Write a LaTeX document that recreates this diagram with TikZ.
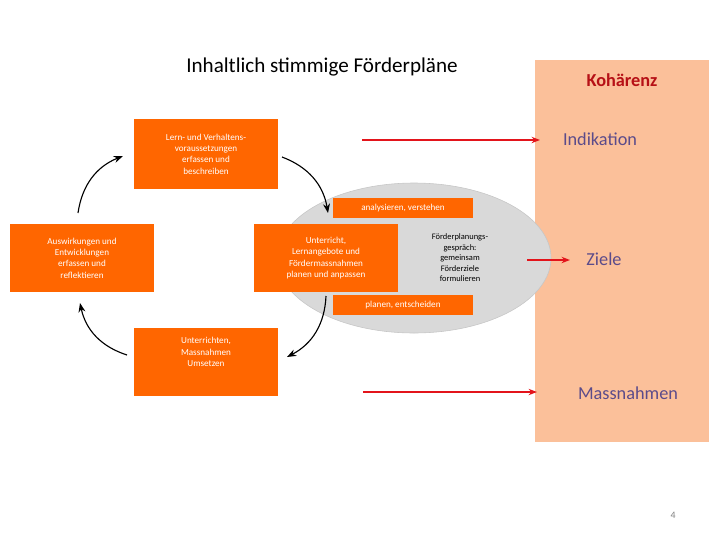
\documentclass[tikz,border=0pt]{standalone}
\usepackage{fontspec}
\setmainfont{Carlito}
\usetikzlibrary{arrows.meta}
\definecolor{boxorange}{HTML}{FF6600}
\definecolor{panel}{HTML}{FBC09A}
\definecolor{redarrow}{HTML}{E3141B}
\definecolor{lilac}{HTML}{5B4B8A}
\begin{document}
\begin{tikzpicture}[x=0.025cm, y=-0.025cm,
    box/.style={fill=boxorange, text=white, align=center, font=\fontsize{6.5}{8}\selectfont},
    cyc/.style={->, >=Stealth, thick, black},
    hint/.style={-{Stealth[length=6pt]}, line width=2pt, redarrow},
    lab/.style={lilac, font=\fontsize{13}{15}\selectfont}]
        \useasboundingbox (0, 0) rectangle (720, 540);

        \node[font=\fontsize{15}{18}\selectfont] (title) at (322, 67) {Inhaltlich stimmige Förderpläne};
        \fill[panel] (535, 60) rectangle (709, 442);
        \node[font=\bfseries\fontsize{13}{15}\selectfont, text=redarrow!80!black] (koh) at (622, 80) {Kohärenz};

        \fill[gray!30, draw=gray!45] (414, 258) ellipse (137 and 75);

        \node[box, minimum width=3.6cm, minimum height=1.75cm] (erfassen) at (206, 154) {Lern- und Verhaltens-\\voraussetzungen\\erfassen und\\beschreiben};
        \node[box, minimum width=3.6cm, minimum height=1.72cm] (auswirk) at (82, 258) {Auswirkungen und\\Entwicklungen\\erfassen und\\reflektieren};
        \node[box, minimum width=3.6cm, minimum height=1.72cm, text depth=0.5cm] (umsetzen) at (206, 362) {Unterrichten,\\Massnahmen\\Umsetzen};
        \node[box, minimum width=3.6cm, minimum height=1.72cm] (planen) at (326, 258) {Unterricht,\\Lernangebote und\\Fördermassnahmen\\planen und anpassen};
        \node[box, minimum width=3.5cm, minimum height=0.5cm] (analys) at (403, 208) {analysieren, verstehen};
        \node[box, minimum width=3.5cm, minimum height=0.5cm] (entsch) at (403, 305) {planen, entscheiden};
        \node[align=center, font=\fontsize{6}{7.5}\selectfont] (gespr) at (460, 258) {Förderplanungs-\\gespräch:\\gemeinsam\\Förderziele\\formulieren};

        \draw[cyc] (282, 157) to[bend left=30] (328, 213);
        \draw[cyc] (326, 296) to[bend left=30] (287, 357);
        \draw[cyc] (127, 355) to[bend left=30] (80, 303);
        \draw[cyc] (78, 213) to[bend left=30] (123, 156);

        \coordinate (r1a) at (362, 140);
        \coordinate (r1b) at (540, 140);
        \coordinate (r2a) at (527, 260);
        \coordinate (r2b) at (570, 260);
        \coordinate (r3a) at (363, 392);
        \coordinate (r3b) at (537, 392);
        \draw[hint] (r1a) -- (r1b);
        \draw[hint] (r2a) -- (r2b);
        \draw[hint] (r3a) -- (r3b);

        \node[lab] (indik) at (600, 139) {Indikation};
        \node[lab] (ziele) at (604, 259) {Ziele};
        \node[lab] (massn) at (628, 393) {Massnahmen};
        \node[font=\fontsize{7}{8}\selectfont, gray] (page) at (673, 515) {4};
    \end{tikzpicture}
\end{document}
